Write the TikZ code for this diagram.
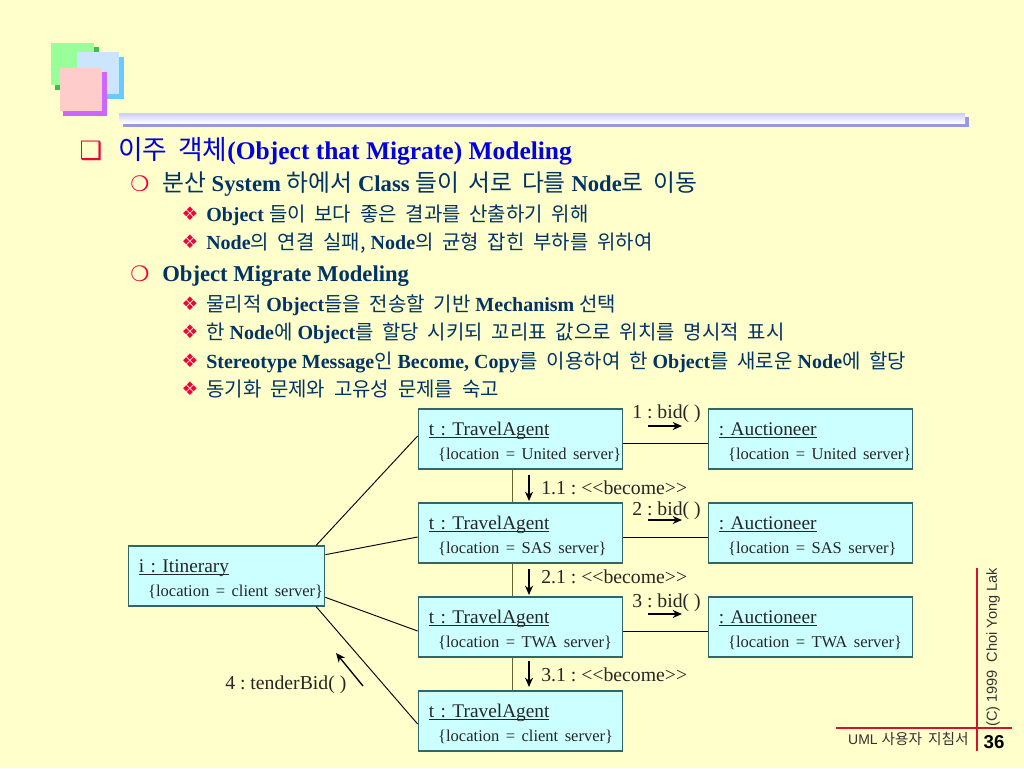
\documentclass[tikz,border=0pt]{standalone}
\usepackage{fontspec}
\usetikzlibrary{arrows.meta}
\setmainfont{Liberation Serif}
\setsansfont{Liberation Sans}
\newfontfamily\kr[WordSpace=1.8,Scale=1.05]{Noto Sans CJK KR}
\newfontfamily\krs[WordSpace=1.95]{Noto Sans CJK KR}
\newfontfamily\bul{DejaVu Sans}
\newcommand{\ko}[1]{{\mdseries\kr #1}}
\newcommand{\kt}[1]{{\mdseries\krs #1}}
\definecolor{paper}{HTML}{FFFFCC}
\definecolor{boxfill}{HTML}{CCFFFF}
\definecolor{boxline}{HTML}{336666}
\definecolor{headblue}{HTML}{0000E0}
\definecolor{bodyblue}{HTML}{003366}
\definecolor{bulred}{HTML}{F0003C}
\definecolor{footred}{HTML}{D8102C}
\definecolor{linkolive}{HTML}{666633}
\definecolor{logogreen}{HTML}{99FF99}
\definecolor{logogreend}{HTML}{44BB44}
\definecolor{logoblue}{HTML}{CCE5FF}
\definecolor{logoblued}{HTML}{66CCFF}
\definecolor{logopink}{HTML}{FFCCCC}
\definecolor{logopinkd}{HTML}{CC66FF}
\definecolor{bartop}{HTML}{CCCCFF}
\definecolor{bardark}{HTML}{9999DD}
\tikzset{
  objbox/.style={draw=boxline,line width=0.8pt,fill=boxfill,minimum height=45pt,inner xsep=8pt,inner ysep=0pt,
    text width=137.5pt,align=left,font=\frenchspacing\fontsize{14.5}{18}\selectfont,text=black!85,
    execute at begin node={\rule{0pt}{14.5pt}}},
  objboxi/.style={objbox,text width=131.5pt},
  headtext/.style={anchor=base west,inner sep=0pt,text=headblue,font=\fontsize{19.1}{22}\selectfont\bfseries},
  leveltwo/.style={anchor=base west,inner sep=0pt,text=bodyblue,font=\fontsize{17}{20}\selectfont\bfseries},
  levelthree/.style={anchor=base west,inner sep=0pt,text=bodyblue,font=\fontsize{15}{18}\selectfont\bfseries},
  msgtext/.style={anchor=base west,inner sep=0pt,text=black!85,font=\frenchspacing\fontsize{14.8}{18}\selectfont},
  msgarrow/.style={-{Stealth[length=7pt,width=6pt]},line width=1pt},
  link/.style={line width=0.7pt},
  bulb/.style={anchor=base,inner sep=0pt,text=bulred},
  bulbone/.style={bulb,font=\fontsize{19}{22}\selectfont\bul\bfseries},
  bulbtwo/.style={bulb,font=\fontsize{16}{20}\selectfont\bul\bfseries},
  bulbthree/.style={bulb,font=\fontsize{14}{16}\selectfont\bul\bfseries},
}
\newcommand{\nm}[1]{\underline{\smash{#1}}}
\newcommand{\loc}[1]{\\\hspace*{7pt}\mbox{\fontsize{12.4}{16}\selectfont\{location = #1\}}}
\begin{document}
\begin{tikzpicture}[x=0.75pt,y=-0.75pt]
  \useasboundingbox (0,0) rectangle (1024,768);
  \fill[paper] (0,0) rectangle (1024,768);
  \fill[logogreend] (55,47) rectangle (99,90);
  \fill[logogreen] (51,43) rectangle (94,85);
  \fill[logoblued] (81,57) rectangle (124,99);
  \fill[logoblue] (77,52) rectangle (119,94);
  \fill[logopinkd] (63,72) rectangle (107,116);
  \fill[logopink] (60,68) rectangle (102,111);
  \fill[bardark] (123,117) rectangle (969,127);
  \shade[top color=bartop,bottom color=white] (119,113) rectangle (965,123);

  \node[bulbone] (b0) at (91,159) {❑};
  \node[headtext] (t0) at (118,159) {\ko{이주 객체}(Object that Migrate) Modeling};
  \node[bulbtwo] (b1) at (140,191) {❍};
  \node[leveltwo] (l1) at (162,191) {\ko{분산} System \ko{하에서} Class \ko{들이 서로 다를} Node\ko{로 이동}};
  \node[bulbthree] (b2) at (190,220) {❖};
  \node[levelthree] (l2) at (206,221) {Object \kt{들이 보다 좋은 결과를 산출하기 위해}};
  \node[bulbthree] (b3) at (190,248) {❖};
  \node[levelthree] (l3) at (206,249) {Node\kt{의 연결 실패,} Node\kt{의 균형 잡힌 부하를 위하여}};
  \node[bulbtwo] (b4) at (140,281) {❍};
  \node[leveltwo] (l4) at (162,281) {Object Migrate Modeling};
  \node[bulbthree] (b5) at (190,310) {❖};
  \node[levelthree] (l5) at (206,311) {\kt{물리적} Object\kt{들을 전송할 기반} Mechanism \kt{선택}};
  \node[bulbthree] (b6) at (190,338) {❖};
  \node[levelthree] (l6) at (206,339) {\kt{한} Node\kt{에} Object\kt{를 할당 시키되 꼬리표 값으로 위치를 명시적 표시}};
  \node[bulbthree] (b7) at (190,367) {❖};
  \node[levelthree] (l7) at (206,368) {Stereotype Message\kt{인} Become, Copy\kt{를 이용하여 한} Object\kt{를 새로운} Node\kt{에 할당}};
  \node[bulbthree] (b8) at (190,395) {❖};
  \node[levelthree] (l8) at (206,396) {\kt{동기화 문제와 고유성 문제를 숙고}};

  \node[objbox] (t1) at (520.5,439) {\nm{t : TravelAgent}\loc{United server}};
  \node[objbox] (a1) at (810.5,439) {\nm{: Auctioneer}\loc{United server}};
  \node[objbox] (t2) at (520.5,533) {\nm{t : TravelAgent}\loc{SAS server}};
  \node[objbox] (a2) at (810.5,533) {\nm{: Auctioneer}\loc{SAS server}};
  \node[objbox] (t3) at (520.5,627) {\nm{t : TravelAgent}\loc{TWA server}};
  \node[objbox] (a3) at (810.5,627) {\nm{: Auctioneer}\loc{TWA server}};
  \node[objbox] (t4) at (520.5,721) {\nm{t : TravelAgent}\loc{client server}};
  \node[objboxi] (iti) at (226.5,576) {\nm{i : Itinerary}\loc{client server}};

  \draw[link] ([xshift=-7pt]iti.north east) -- ([yshift=2.25pt]t1.west);
  \draw[link] ([yshift=16pt]iti.east) -- ([yshift=-3pt]t2.west);
  \draw[link] ([yshift=-16pt]iti.east) -- ([yshift=-3pt]t3.west);
  \draw[link] ([xshift=-7pt]iti.south east) -- ([yshift=-2.25pt]t4.west);
  \draw[link] ([yshift=-3pt]t1.east) -- ([yshift=-3pt]a1.west);
  \draw[link] ([yshift=-3pt]t2.east) -- ([yshift=-3pt]a2.west);
  \draw[link] ([yshift=-3pt]t3.east) -- ([yshift=-3pt]a3.west);
  \draw[link,linkolive] ([xshift=-6pt]t1.south) -- ([xshift=-6pt]t2.north);
  \draw[link,linkolive] ([xshift=-6pt]t2.south) -- ([xshift=-6pt]t3.north);
  \draw[link,linkolive] ([xshift=-6pt]t3.south) -- ([xshift=-6pt]t4.north);

  \node[msgtext] (m1) at (632,418) {1 : bid( )};
  \coordinate (m1a) at (648,426);
  \coordinate (m1b) at (682,426);
  \draw[msgarrow] (m1a) -- (m1b);
  \node[msgtext] (m2) at (632,515) {2 : bid( )};
  \coordinate (m2a) at (648,520);
  \coordinate (m2b) at (682,520);
  \draw[msgarrow] (m2a) -- (m2b);
  \node[msgtext] (m3) at (632,607) {3 : bid( )};
  \coordinate (m3a) at (648,614);
  \coordinate (m3b) at (682,614);
  \draw[msgarrow] (m3a) -- (m3b);
  \node[msgtext] (n1) at (541,494) {1.1 : <{}<become>{}>};
  \coordinate (n1a) at (529,475);
  \coordinate (n1b) at (529,501);
  \draw[msgarrow] (n1a) -- (n1b);
  \node[msgtext] (n2) at (541,583) {2.1 : <{}<become>{}>};
  \coordinate (n2a) at (529,569);
  \coordinate (n2b) at (529,595);
  \draw[msgarrow] (n2a) -- (n2b);
  \node[msgtext] (n3) at (541,681) {3.1 : <{}<become>{}>};
  \coordinate (n3a) at (529,661);
  \coordinate (n3b) at (529,687);
  \draw[msgarrow] (n3a) -- (n3b);
  \node[msgtext] (m4) at (225,689) {4 : tenderBid( )};
  \coordinate (m4a) at (363,686);
  \coordinate (m4b) at (336,653);
  \draw[msgarrow] (m4a) -- (m4b);

  \coordinate (ftl) at (836,728);
  \coordinate (ftr) at (1012,728);
  \coordinate (fvt) at (977,568);
  \coordinate (fvb) at (977,751);
  \draw[footred,line width=0.9pt] (ftl) -- (ftr);
  \draw[footred,line width=0.9pt] (fvt) -- (fvb);
  \node[anchor=base east,inner sep=0pt,font=\fontsize{10.5}{12}\selectfont\sffamily,text=black!80] (foot) at (969,744) {UML \ko{사용자 지침서}};
  \node[anchor=base,inner sep=0pt,font=\fontsize{14}{18}\selectfont\sffamily\bfseries] (page) at (994,748) {36};
  \node[anchor=west,rotate=90,inner sep=0pt,font=\fontsize{10.9}{12}\selectfont\sffamily,text=black!80] (copy) at (993,727) {(C) 1999\ \ Choi Yong Lak};
\end{tikzpicture}
\end{document}
